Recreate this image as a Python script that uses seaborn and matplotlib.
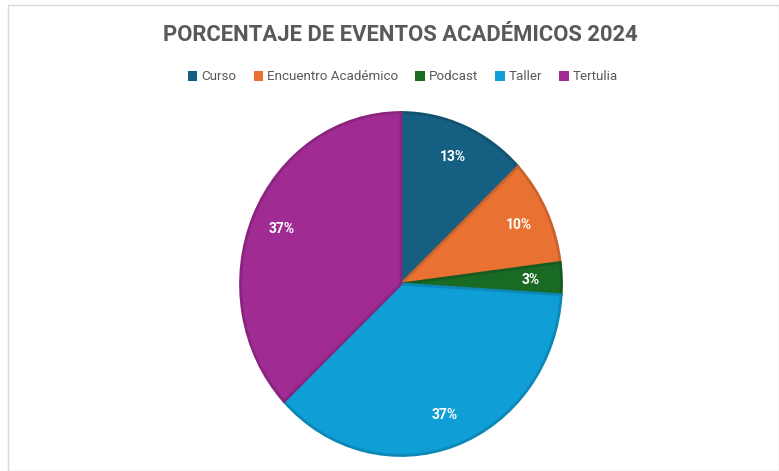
import matplotlib
matplotlib.use("Agg")
import matplotlib.pyplot as plt
from matplotlib.patches import Rectangle, Patch
import seaborn as sns

# data
categories = ["Curso", "Encuentro Académico", "Podcast", "Taller", "Tertulia"]
percentages = [13, 10, 3, 37, 37]
colors = ["#156082", "#E97132", "#196B24", "#0F9ED5", "#A02B93"]
edge_colors = ["#12526F", "#C9622B", "#155B1F", "#0D88B6", "#89257E"]

sns.set_theme(style="white")
plt.rcParams["font.family"] = ["Roboto", "DejaVu Sans"]

W, H = 779, 471
fig = plt.figure(figsize=(W / 100, H / 100), dpi=100)
fig.patch.set_facecolor("white")

# pie area: centre (401, 284) px, slightly squeezed horizontally like the reference
cx, cy, rx, ry = 401, 284, 160.5, 171.5
ax = fig.add_axes([(cx - rx) / W, (H - cy - ry) / H, 2 * rx / W, 2 * ry / H])

palette = sns.color_palette(colors)
wedges, texts, autotexts = ax.pie(
    percentages,
    colors=palette,
    startangle=90,
    counterclock=False,
    autopct=lambda p: f"{p:.0f}%",
    pctdistance=0.81,
    wedgeprops=dict(linewidth=2),
    textprops=dict(color="white", fontsize=10, fontweight="bold"),
)
for w, ec in zip(wedges, edge_colors):
    w.set_edgecolor(ec)
ax.set_xlim(-1, 1)
ax.set_ylim(-1, 1)
ax.set_aspect("auto")
ax.axis("off")

fig.text(400 / W, 1 - 35 / H, "PORCENTAJE DE EVENTOS ACADÉMICOS 2024",
         ha="center", va="center", fontsize=15.8, fontweight="bold",
         color="#595959")

handles = [Patch(facecolor=c, edgecolor="none") for c in colors]
fig.legend(handles, categories, loc="center", bbox_to_anchor=(403 / W, 1 - 77 / H),
           ncol=5, frameon=False, fontsize=9.6, labelcolor="#595959",
           handlelength=0.7, handleheight=0.7, handletextpad=0.3,
           columnspacing=1.3, borderaxespad=0)

fig.patches.append(Rectangle((8 / W, 0.5 / H), (W - 8.5) / W, (H - 5.5) / H,
                             transform=fig.transFigure, fill=False,
                             edgecolor="#d9d9d9", linewidth=1))

fig.savefig("out.png", dpi=100)
